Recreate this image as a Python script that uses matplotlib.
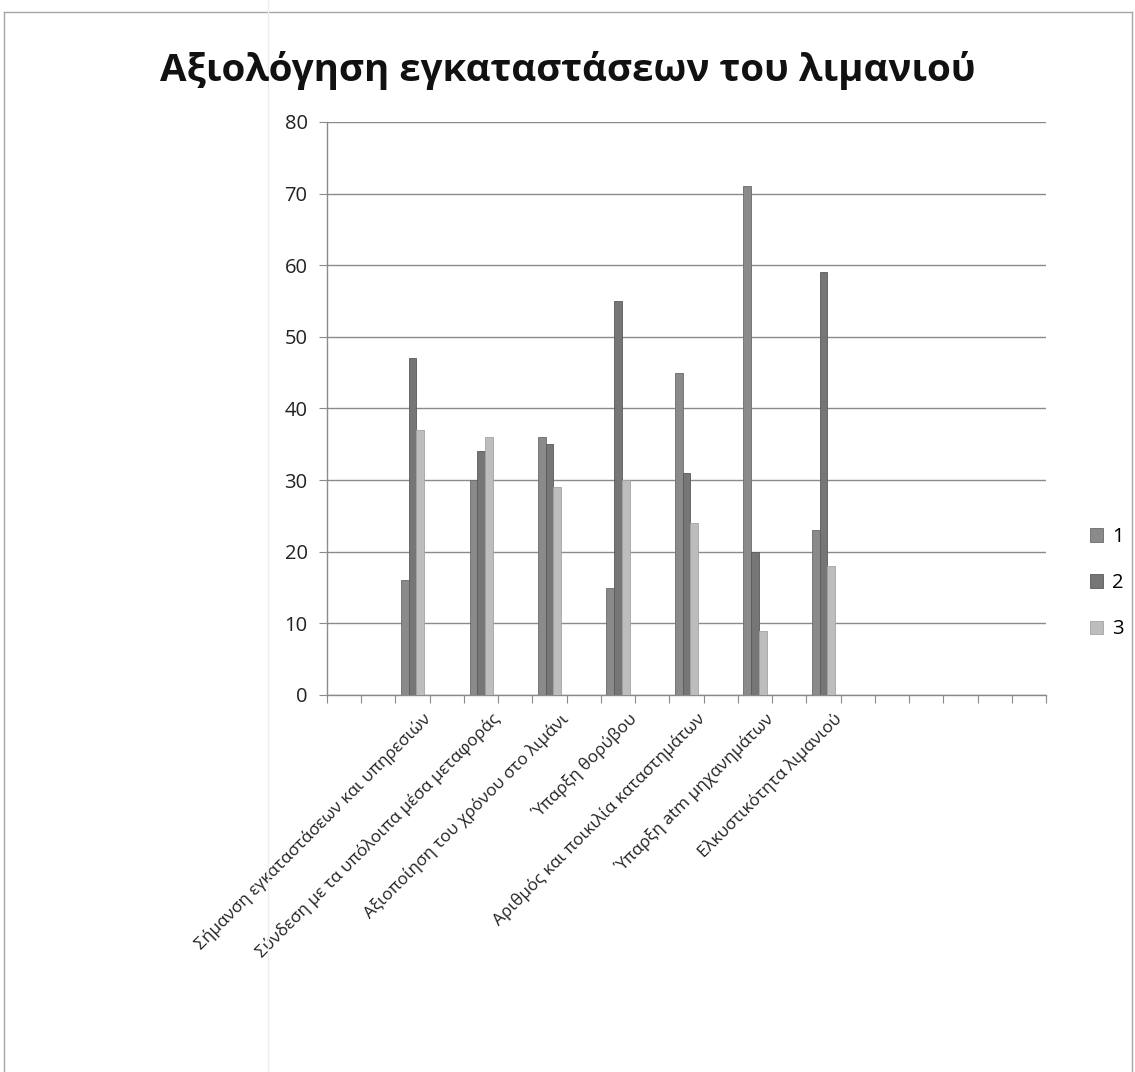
import numpy as np
import matplotlib
matplotlib.use("Agg")
import matplotlib.pyplot as plt
from matplotlib.lines import Line2D

plt.rcParams['font.family'] = ['Open Sans', 'DejaVu Sans']

# Category rows of the worksheet (blank rows included)
categories = [
    "", "",
    "Σήμανση εγκαταστάσεων και υπηρεσιών", "",
    "Σύνδεση με τα υπόλοιπα μέσα μεταφοράς", "",
    "Αξιοποίηση του χρόνου στο λιμάνι", "",
    "Ύπαρξη θορύβου", "",
    "Αριθμός και ποικιλία καταστημάτων", "",
    "Ύπαρξη atm μηχανημάτων", "",
    "Ελκυστικότητα λιμανιού", "",
    "", "", "", "", "",
]

series_names = ["1", "2", "3"]
N = None
series_1 = [N, N, 16, N, 30, N, 36, N, 15, N, 45, N, 71, N, 23, N, N, N, N, N, N]
series_2 = [N, N, 47, N, 34, N, 35, N, 55, N, 31, N, 20, N, 59, N, N, N, N, N, N]
series_3 = [N, N, 37, N, 36, N, 29, N, 30, N, 24, N, 9, N, 18, N, N, N, N, N, N]

colors = ["#8a8a8a", "#767676", "#bdbdbd"]
edge_colors = ["#6a6a6a", "#5a5a5a", "#a3a3a3"]

title = "Αξιολόγηση εγκαταστάσεων του λιμανιού"
y_ticks = [0, 10, 20, 30, 40, 50, 60, 70, 80]

fig = plt.figure(figsize=(11.35, 10.72), dpi=100)
ax = fig.add_axes([0.2881, 0.3517, 0.6335, 0.5345])

n = len(categories)
x = np.arange(n)
bar_w = 0.225
all_series = [series_1, series_2, series_3]
for i, (vals, name) in enumerate(zip(all_series, series_names)):
    v = np.array([np.nan if a is None else a for a in vals], dtype=float)
    ax.bar(x + (i - 1) * bar_w, v, width=bar_w, color=colors[i],
           edgecolor=edge_colors[i], linewidth=0.6, label=name, zorder=3)

ax.set_xlim(-0.5, n - 0.5)
ax.set_ylim(0, 80)
ax.set_yticks(y_ticks)
ax.yaxis.grid(True, color="#8a8a8a", linewidth=1.0, zorder=0)

# category boundaries carry the tick marks, labels sit at the centers
ax.set_xticks(np.arange(-0.5, n, 1.0))
ax.set_xticklabels([])
ax.set_xticks(x + 0.3, minor=True)
ax.set_xticklabels(categories, minor=True, rotation=45, ha="right",
                   va="top", rotation_mode="anchor", fontsize=12.3,
                   color="#222222")
ax.tick_params(axis="x", which="minor", length=0, pad=11)
ax.tick_params(axis="x", which="major", length=6, color="#8a8a8a",
               direction="out")
ax.tick_params(axis="y", length=6, color="#8a8a8a", labelsize=14.5,
               labelcolor="#222222", pad=8)

for side in ["top", "right"]:
    ax.spines[side].set_visible(False)
for side in ["left", "bottom"]:
    ax.spines[side].set_color("#8a8a8a")
    ax.spines[side].set_linewidth(1.0)

fig.text(0.5, 0.934, title, ha="center", va="center", fontsize=27.7,
         fontweight="bold", color="#111111")

leg = fig.legend(loc="center left", bbox_to_anchor=(0.9535, 0.456),
                 frameon=False, fontsize=14.5, handlelength=0.65,
                 handleheight=0.65, labelspacing=1.3, handletextpad=0.45,
                 borderaxespad=0)

# chart frame
frame_kw = dict(color="#a6a6a6", linewidth=1.0, transform=fig.transFigure)
fig.add_artist(Line2D([4 / 1135, 1132 / 1135], [1 - 12 / 1072, 1 - 12 / 1072], **frame_kw))
fig.add_artist(Line2D([4 / 1135, 4 / 1135], [0, 1 - 12 / 1072], **frame_kw))
fig.add_artist(Line2D([1132 / 1135, 1132 / 1135], [0, 1 - 12 / 1072], **frame_kw))
fig.add_artist(Line2D([268 / 1135, 268 / 1135], [0, 1], color="#ececec",
                      linewidth=1.0, transform=fig.transFigure))

fig.savefig("out.png", dpi=100)
